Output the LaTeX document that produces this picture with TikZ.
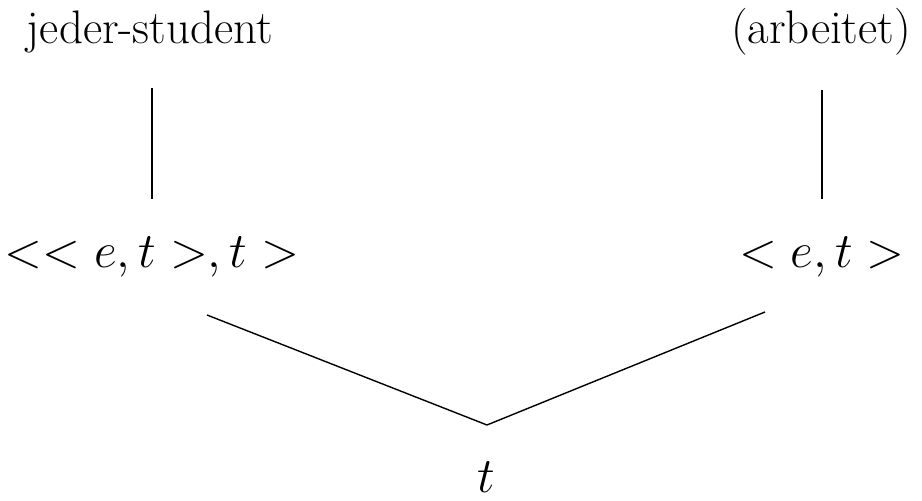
\documentclass[tikz,border=0pt]{standalone}
\usepackage{amsmath}
\begin{document}
\begin{tikzpicture}[x=0.5pt,y=-0.5pt,
  every node/.style={font=\fontsize{23.5}{28}\selectfont, inner sep=0pt, anchor=base},
  edge/.style={line width=0.7pt}]
\useasboundingbox (0,0) rectangle (922,501);
% words
\node (js) at (150,44) {jeder-student};
\node (arb) at (821,44) {(arbeitet)};
% types
\node (tjs) at (152,268) {$<< e,t >,t >$};
\node (tarb) at (822,268) {$< e,t >$};
\node (t) at (486,493) {$t$};
% word -- type
\draw[edge, shorten <=17pt, shorten >=19pt] (js.south -| tjs.north) -- (tjs.north);
\draw[edge, shorten <=17pt, shorten >=19pt] (arb.south -| tarb.north) -- (tarb.north);
% combination: ends below the types, vertex above t
\coordinate (l) at (207,315);
\coordinate (r) at (765,312);
\coordinate (v) at (487,425);
\draw[edge] (l) -- (v) -- (r);
\end{tikzpicture}
\end{document}
